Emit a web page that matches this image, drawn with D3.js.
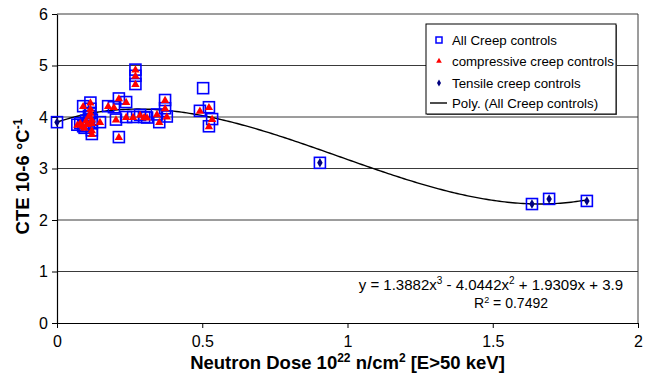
<!DOCTYPE html>
<html>
<head>
<meta charset="utf-8">
<script src="https://cdn.jsdelivr.net/npm/d3@7"></script>
<style>
  html, body { margin: 0; padding: 0; background: #fff; }
  svg { display: block; font-family: "Liberation Sans", Arial, sans-serif; }
</style>
</head>
<body>
<svg id="chart" width="648" height="375"></svg>
<script>
// Compressive creep control specimens: dose (10^22 n/cm2) and CTE (10^-6 /°C)
const compDose = [0.07, 0.08, 0.09, 0.09, 0.095, 0.10, 0.105, 0.11, 0.115, 0.115, 0.115, 0.12, 0.12, 0.12, 0.12,
                  0.148, 0.176, 0.196, 0.203, 0.213, 0.213, 0.238, 0.238, 0.262, 0.27, 0.27, 0.27, 0.286,
                  0.30, 0.31, 0.344, 0.352, 0.372, 0.372, 0.378, 0.492, 0.523, 0.534, 0.523];
const compCte  = [3.85, 3.88, 3.82, 4.21, 3.79, 3.93, 3.86, 4.02, 4.28, 4.16, 4.08, 3.74, 3.67, 3.88, 3.95,
                  3.90, 4.21, 4.19, 3.95, 4.36, 3.61, 4.29, 4.00, 4.00, 4.92, 4.80, 4.64, 4.04,
                  4.00, 3.99, 4.05, 3.90, 4.33, 4.17, 4.01, 4.12, 4.19, 3.96, 3.82];

// Tensile creep control specimens
const tensDose = [0.0, 0.905, 1.635, 1.694, 1.824];
const tensCte  = [3.90, 3.11, 2.31, 2.41, 2.37];

// Creep control specimen without a load-type marker
const otherDose = [0.503];
const otherCte  = [4.56];

// Third-order polynomial trend fitted to all creep controls
const polyCoef = [3.9, 1.9309, -4.0442, 1.3882]; // c0 + c1 x + c2 x^2 + c3 x^3
const rSquared = "0.7492";

const xTicks = [0, 0.5, 1, 1.5, 2];
const yTicks = [0, 1, 2, 3, 4, 5, 6];

const legendLabels = ["All Creep controls", "compressive creep controls", "Tensile creep controls", "Poly. (All Creep controls)"];

const svg = d3.select("#chart");
const m = { left: 57, right: 10, top: 14, bottom: 52 };
const W = 648, H = 375;
const iw = W - m.left - m.right, ih = H - m.top - m.bottom;

const x = d3.scaleLinear().domain([0, 2]).range([m.left, m.left + iw]);
const y = d3.scaleLinear().domain([0, 6]).range([m.top + ih, m.top]);

const toPts = (xs, ys) => xs.map((d, i) => ({ x: d, y: ys[i] }));
const comp = toPts(compDose, compCte);
const tens = toPts(tensDose, tensCte);
const allCreep = comp.concat(tens, toPts(otherDose, otherCte));

// Gridlines
svg.append("g")
  .selectAll("line")
  .data(yTicks.filter(t => t > 0))
  .join("line")
  .attr("x1", x(0)).attr("x2", x(2))
  .attr("y1", d => y(d)).attr("y2", d => y(d))
  .attr("stroke", "#3a3a3a").attr("stroke-width", 1);

// Right border of plot area
svg.append("line")
  .attr("x1", x(2)).attr("x2", x(2)).attr("y1", y(6)).attr("y2", y(0))
  .attr("stroke", "#3a3a3a").attr("stroke-width", 1);

// Axes
const xAxis = svg.append("g")
  .attr("transform", `translate(0,${y(0)})`)
  .call(d3.axisBottom(x).tickValues(xTicks).tickSize(5).tickSizeOuter(0).tickFormat(d3.format("")));
const yAxis = svg.append("g")
  .attr("transform", `translate(${x(0)},0)`)
  .call(d3.axisLeft(y).tickValues(yTicks).tickSize(5).tickSizeOuter(0).tickFormat(d3.format("d")));

[xAxis, yAxis].forEach(g => {
  g.select(".domain").attr("stroke", "#000").attr("stroke-width", 1.2);
  g.selectAll(".tick line").attr("stroke", "#000");
  g.selectAll(".tick text").attr("fill", "#000")
    .style("font-family", "'Liberation Sans', Arial, sans-serif").style("font-size", "16px");
});
xAxis.selectAll(".tick text").attr("y", 9).attr("dy", "0.95em");
yAxis.selectAll(".tick text").attr("x", -9);

// Axis titles
const xt = svg.append("text")
  .attr("x", x(1)).attr("y", 369)
  .attr("text-anchor", "middle")
  .style("font-weight", "bold").style("font-size", "18.5px");
xt.append("tspan").text("Neutron Dose 10");
xt.append("tspan").attr("dy", -7).style("font-size", "12px").text("22");
xt.append("tspan").attr("dy", 7).text(" n/cm");
xt.append("tspan").attr("dy", -7).style("font-size", "12px").text("2");
xt.append("tspan").attr("dy", 7).text(" [E>50 keV]");

const yt = svg.append("text")
  .attr("transform", `translate(29,${(y(0) + y(6)) / 2 + 8}) rotate(-90)`)
  .attr("text-anchor", "middle")
  .style("font-weight", "bold").style("font-size", "18.5px");
yt.append("tspan").text("CTE 10-6 °C");
yt.append("tspan").attr("dy", -7).style("font-size", "12px").text("-1");

// Polynomial trend line
const poly = v => polyCoef.reduce((s, c, i) => s + c * Math.pow(v, i), 0);
const xMax = d3.max(allCreep, d => d.x);
const curvePts = d3.range(0, 201).map(i => xMax * i / 200);
svg.append("path")
  .datum(curvePts)
  .attr("fill", "none").attr("stroke", "#000").attr("stroke-width", 1.4)
  .attr("d", d3.line().x(d => x(d)).y(d => y(poly(d))));

// All creep controls: open blue squares
svg.append("g")
  .selectAll("rect")
  .data(allCreep)
  .join("rect")
  .attr("x", d => x(d.x) - 5.5).attr("y", d => y(d.y) - 5.5)
  .attr("width", 11).attr("height", 11)
  .attr("fill", "none").attr("stroke", "#0000ff").attr("stroke-width", 1.6);

// Compressive creep controls: red triangles
const tri = d3.symbol().type(d3.symbolTriangle).size(30);
svg.append("g")
  .selectAll("path")
  .data(comp)
  .join("path")
  .attr("transform", d => `translate(${x(d.x)},${y(d.y) + 0.5})`)
  .attr("d", tri)
  .attr("fill", "#ff0000");

// Tensile creep controls: navy diamonds
const dia = d3.symbol().type(d3.symbolDiamond).size(26);
svg.append("g")
  .selectAll("path")
  .data(tens)
  .join("path")
  .attr("transform", d => `translate(${x(d.x)},${y(d.y)})`)
  .attr("d", dia)
  .attr("fill", "#000080");

// Trend equation
const eq = svg.append("text").attr("x", 623).attr("y", 290)
  .attr("text-anchor", "end").style("font-size", "15px");
eq.append("tspan").text(`y = ${polyCoef[3]}x`);
eq.append("tspan").attr("dy", -6).style("font-size", "10px").text("3");
eq.append("tspan").attr("dy", 6).text(` - ${Math.abs(polyCoef[2])}x`);
eq.append("tspan").attr("dy", -6).style("font-size", "10px").text("2");
eq.append("tspan").attr("dy", 6).text(` + ${polyCoef[1]}x + ${polyCoef[0]}`);

const r2 = svg.append("text").attr("x", 548).attr("y", 308)
  .attr("text-anchor", "end").style("font-size", "14px");
r2.append("tspan").text("R");
r2.append("tspan").attr("dy", -5).style("font-size", "9px").text("2");
r2.append("tspan").attr("dy", 5).text(` = ${rSquared}`);

// Legend
const lg = svg.append("g");
lg.append("rect").attr("x", 427).attr("y", 25).attr("width", 190).attr("height", 90).attr("fill", "#666");
lg.append("rect").attr("x", 426).attr("y", 24).attr("width", 190).attr("height", 90)
  .attr("fill", "#fff").attr("stroke", "#000").attr("stroke-width", 1);
const rowY = [40, 61, 83, 103];
legendLabels.forEach((t, i) => {
  lg.append("text").attr("x", 452).attr("y", rowY[i] + 5).style("font-size", "13.3px").text(t);
});
lg.append("rect").attr("x", 436).attr("y", rowY[0] - 3).attr("width", 6).attr("height", 6)
  .attr("fill", "none").attr("stroke", "#0000ff").attr("stroke-width", 1.5);
lg.append("path").attr("transform", `translate(439,${rowY[1]})`)
  .attr("d", d3.symbol().type(d3.symbolTriangle).size(14)).attr("fill", "#ff0000");
lg.append("path").attr("transform", `translate(439,${rowY[2]})`)
  .attr("d", d3.symbol().type(d3.symbolDiamond).size(14)).attr("fill", "#000080");
lg.append("line").attr("x1", 430).attr("x2", 447).attr("y1", rowY[3]).attr("y2", rowY[3])
  .attr("stroke", "#000").attr("stroke-width", 1.4);
</script>
</body>
</html>
